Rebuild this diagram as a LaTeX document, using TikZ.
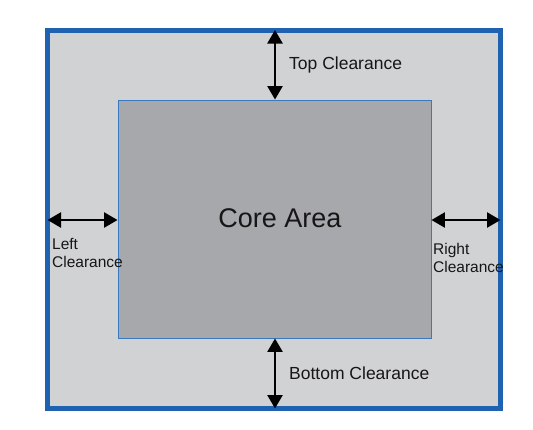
\documentclass[tikz,border=0pt]{standalone}
\usepackage{fontspec}
\setmainfont{Liberation Sans}
\usetikzlibrary{arrows.meta,positioning}
\definecolor{frameblue}{HTML}{1F62B0}
\definecolor{lineblue}{HTML}{3A78C0}
\definecolor{outergray}{HTML}{D1D2D4}
\definecolor{coregray}{HTML}{A7A8AB}
\definecolor{textgray}{HTML}{161616}
\tikzset{
  clear/.style={line width=2.4pt,{Triangle[length=13.5pt,width=15pt]}-{Triangle[length=13.5pt,width=15pt]}},
  lbl/.style={text=textgray,inner sep=0pt,font=\fontsize{15.5}{18.5}\selectfont,align=left}
}
\begin{document}
\begin{tikzpicture}[x=1pt,y=-1pt]
\useasboundingbox[fill=white] (0,0) rectangle (533,429);
\node[draw=frameblue,line width=5pt,fill=outergray,minimum width=453pt,minimum height=378.5pt,inner sep=0pt] (outer) at (274,219.25) {};
\node[draw=lineblue,line width=0.9pt,fill=coregray,minimum width=313pt,minimum height=238pt,inner sep=0pt] (core) at (274.5,219) {};
\node[text=textgray,font=\fontsize{27}{31}\selectfont] (corelbl) at (280,218) {Core Area};
% clearance arrows
\draw[clear,shorten <=2.5pt] (core.north -| 275,0) coordinate (ct) (ct |- outer.north) -- (ct);
\draw[clear,shorten >=2.5pt] (core.south -| 275,0) coordinate (cb) -- (cb |- outer.south);
\draw[clear,shorten <=2.5pt] (outer.west |- 0,220) coordinate (cl) -- (cl -| core.west);
\draw[clear,shorten >=2.5pt] (core.east |- 0,220) coordinate (cr) -- (cr -| outer.east);
% labels
\node[lbl,font=\fontsize{17.5}{20}\selectfont,anchor=west] (toplbl) at (289,65) {Top Clearance};
\node[lbl,font=\fontsize{17.5}{20}\selectfont,anchor=west] (botlbl) at (289,373) {Bottom Clearance};
\node[lbl,anchor=north west] (leftlbl) at (52,238) {Left\\Clearance};
\node[lbl,anchor=north west] (rightlbl) at (433,243) {Right\\Clearance};
\end{tikzpicture}
\end{document}
